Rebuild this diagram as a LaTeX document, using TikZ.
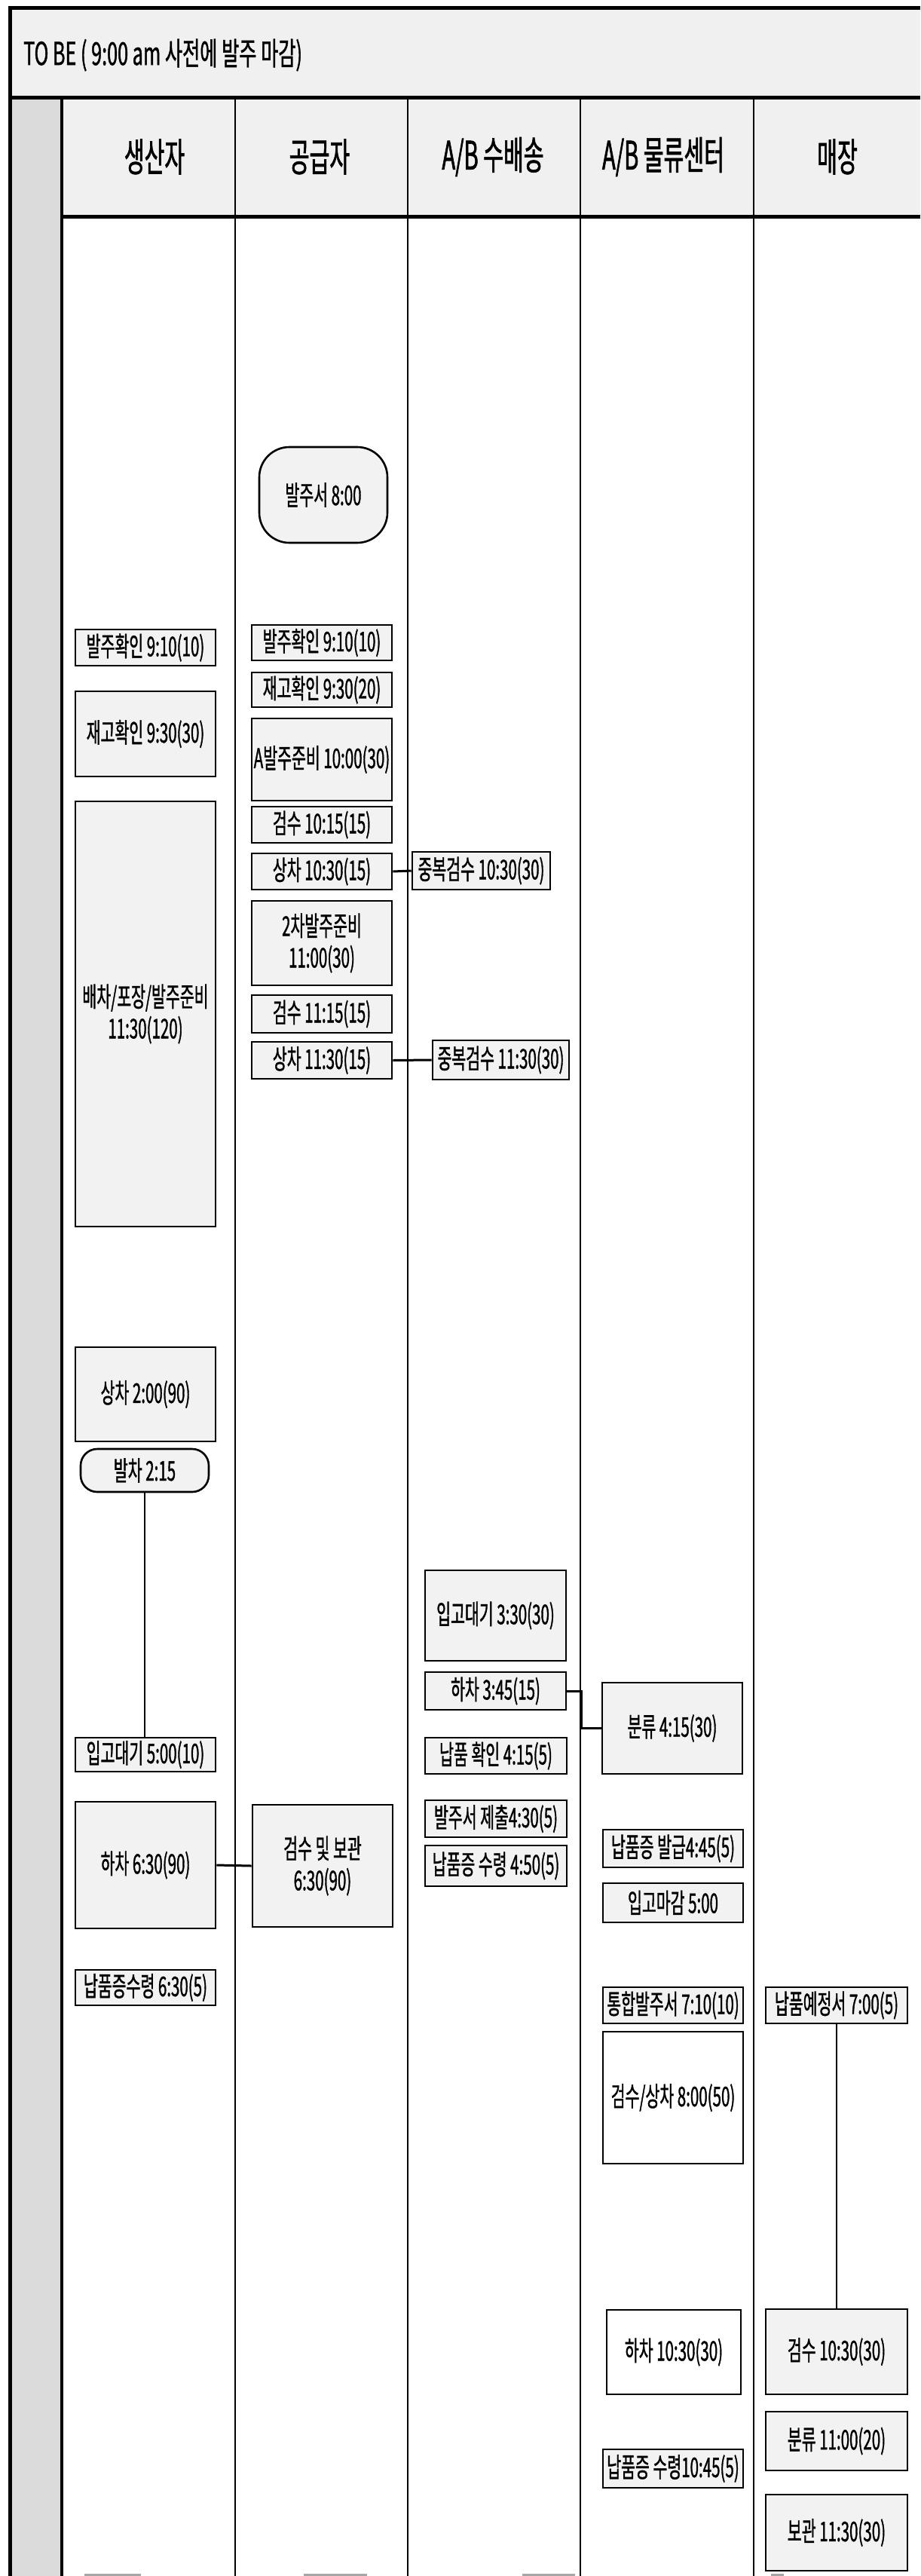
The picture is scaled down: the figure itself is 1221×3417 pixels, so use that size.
\documentclass[tikz,border=0pt]{standalone}
\usepackage{fontspec}
\newfontfamily\krbox{Noto Sans CJK KR}[FakeStretch=0.57,FakeBold=1]
\newfontfamily\krhead{Noto Sans CJK KR}[FakeStretch=0.56,FakeBold=1.2]
\newfontfamily\krtitle{Noto Sans CJK KR}[FakeStretch=0.6,FakeBold=1]
\begin{document}
\begin{tikzpicture}[x=1pt,y=-1pt,
  box/.style={draw=black, line width=2.6pt, fill=gray!10, inner sep=0pt,
    align=center, font=\krbox\fontsize{36}{42}\selectfont},
  wbox/.style={box, fill=white},
  rbox/.style={box, rounded corners=28pt},
  head/.style={font=\krhead\fontsize{52}{58}\selectfont, inner sep=0pt},
  conn/.style={draw=black, line width=3pt},
  vconn/.style={draw=black, line width=2pt},
  frame/.style={draw=black, line width=5pt},
  colline/.style={draw=black, line width=2pt},
  frag/.style={draw=gray!70, line width=3pt}
]
\useasboundingbox (0,0) rectangle (1221,3417);
% backgrounds
\fill[gray!12] (13,11) rectangle (1221,287);
\fill[gray!28] (13,130) rectangle (82,3417);
% frame and grid
\draw[frame] (13,3417) -- (13,11) -- (1221,11);
\draw[frame] (13,130) -- (1221,130);
\draw[frame] (82,287) -- (1221,287);
\draw[draw=black, line width=4pt] (82,130) -- (82,3417);
\foreach \cx in {312,541,770,1000} { \draw[colline] (\cx,130) -- (\cx,3417); }
% title and headers
\node[anchor=west, inner sep=0pt, font=\krtitle\fontsize{42}{48}\selectfont] (title) at (31,73) {TO BE ( 9:00 am 사전에 발주 마감)};
\node[head] (h1) at (205,208) {생산자};
\node[head] (h2) at (424,208) {공급자};
\node[head] (h3) at (654,208) {A/B 수배송};
\node[head] (h4) at (880,208) {A/B 물류센터};
\node[head] (h5) at (1111,208) {매장};
% column 1
\node[box, minimum width=186pt, minimum height=48pt] (c1a) at (193,859) {발주확인 9:10(10)};
\node[box, minimum width=186pt, minimum height=113pt] (c1b) at (193,973.5) {재고확인 9:30(30)};
\node[box, minimum width=186pt, minimum height=564pt] (c1c) at (193,1345) {배차/포장/발주준비\\11:30(120)};
\node[box, minimum width=186pt, minimum height=125pt] (c1d) at (193,1849.5) {상차 2:00(90)};
\node[box, rounded corners=22pt, minimum width=170pt, minimum height=57pt] (c1e) at (192,1950.5) {발차 2:15};
\node[box, minimum width=186pt, minimum height=45pt] (c1f) at (193,2327.5) {입고대기 5:00(10)};
\node[box, minimum width=186pt, minimum height=168pt] (c1g) at (193,2474) {하차 6:30(90)};
\node[box, minimum width=186pt, minimum height=47pt] (c1h) at (193,2636.5) {납품증수령 6:30(5)};
% column 2
\node[rbox, rounded corners=40pt, minimum width=170pt, minimum height=127pt] (c2a) at (429,656.5) {발주서 8:00};
\node[box, minimum width=186pt, minimum height=47pt] (c2b) at (427,852.5) {발주확인 9:10(10)};
\node[box, minimum width=186pt, minimum height=46pt] (c2c) at (427,915) {재고확인 9:30(20)};
\node[box, minimum width=186pt, minimum height=109pt] (c2d) at (427,1007.5) {A발주준비 10:00(30)};
\node[box, minimum width=186pt, minimum height=48pt] (c2e) at (427,1094) {검수 10:15(15)};
\node[box, minimum width=186pt, minimum height=48pt] (c2f) at (427,1156) {상차 10:30(15)};
\node[box, minimum width=186pt, minimum height=112pt] (c2g) at (427,1251) {2차발주준비\\11:00(30)};
\node[box, minimum width=186pt, minimum height=50pt] (c2h) at (427,1345) {검수 11:15(15)};
\node[box, minimum width=186pt, minimum height=49pt] (c2i) at (427,1406.5) {상차 11:30(15)};
\node[box, minimum width=186pt, minimum height=162pt] (c2j) at (428,2475) {검수 및 보관\\6:30(90)};
% column 3
\node[box, minimum width=183pt, minimum height=50pt] (c3a) at (638.5,1155) {중복검수 10:30(30)};
\node[box, minimum width=181pt, minimum height=52pt] (c3b) at (664.5,1406) {중복검수 11:30(30)};
\node[box, minimum width=187pt, minimum height=120pt] (c3c) at (657.5,2143) {입고대기 3:30(30)};
\node[box, minimum width=187pt, minimum height=50pt] (c3d) at (657.5,2243) {하차 3:45(15)};
\node[box, minimum width=188pt, minimum height=48pt] (c3e) at (658,2329) {납품 확인 4:15(5)};
\node[box, minimum width=188pt, minimum height=49pt] (c3f) at (658,2412.5) {발주서 제출4:30(5)};
\node[box, minimum width=188pt, minimum height=54pt] (c3g) at (658,2475) {납품증 수령 4:50(5)};
% column 4
\node[box, minimum width=186pt, minimum height=121pt] (c4a) at (892,2292.5) {분류 4:15(30)};
\node[box, minimum width=186pt, minimum height=50pt] (c4b) at (893,2452) {납품증 발급4:45(5)};
\node[box, minimum width=186pt, minimum height=52pt] (c4c) at (893,2524) {입고마감 5:00};
\node[box, minimum width=186pt, minimum height=48pt] (c4d) at (893,2660) {통합발주서 7:10(10)};
\node[wbox, minimum width=186pt, minimum height=175pt] (c4e) at (893,2782.5) {검수/상차 8:00(50)};
\node[wbox, minimum width=178pt, minimum height=112pt] (c4f) at (894,3120) {하차 10:30(30)};
\node[box, minimum width=186pt, minimum height=51pt] (c4g) at (893,3274.5) {납품증 수령10:45(5)};
% column 5
\node[box, minimum width=188pt, minimum height=48pt] (c5a) at (1110,2660) {납품예정서 7:00(5)};
\node[box, minimum width=188pt, minimum height=113pt] (c5b) at (1110,3119.5) {검수 10:30(30)};
\node[box, minimum width=188pt, minimum height=78pt] (c5c) at (1110,3238) {분류 11:00(20)};
\node[box, minimum width=188pt, minimum height=101pt] (c5d) at (1110,3359.5) {보관 11:30(30)};
% connectors
\draw[conn] (c2f.east) -- (c3a.west);
\draw[conn] (c2i.east) -- (c3b.west);
\draw[vconn] (c1e.south) -- (c1e.south |- c1f.north);
\draw[conn] (c3d.east) -- ++(19,0) |- (c4a.west);
\draw[conn] (c1g.east) -- (c2j.west);
\draw[vconn] (c5a.south) -- (c5b.north);
% fragments at the lower edge
\draw[frag] (112,3415) -- (187,3415);
\draw[frag] (403,3415) -- (487,3415);
\draw[frag] (693,3415) -- (763,3415);
\draw[frag] (1023,3415) -- (1040,3415);
\end{tikzpicture}
\end{document}
